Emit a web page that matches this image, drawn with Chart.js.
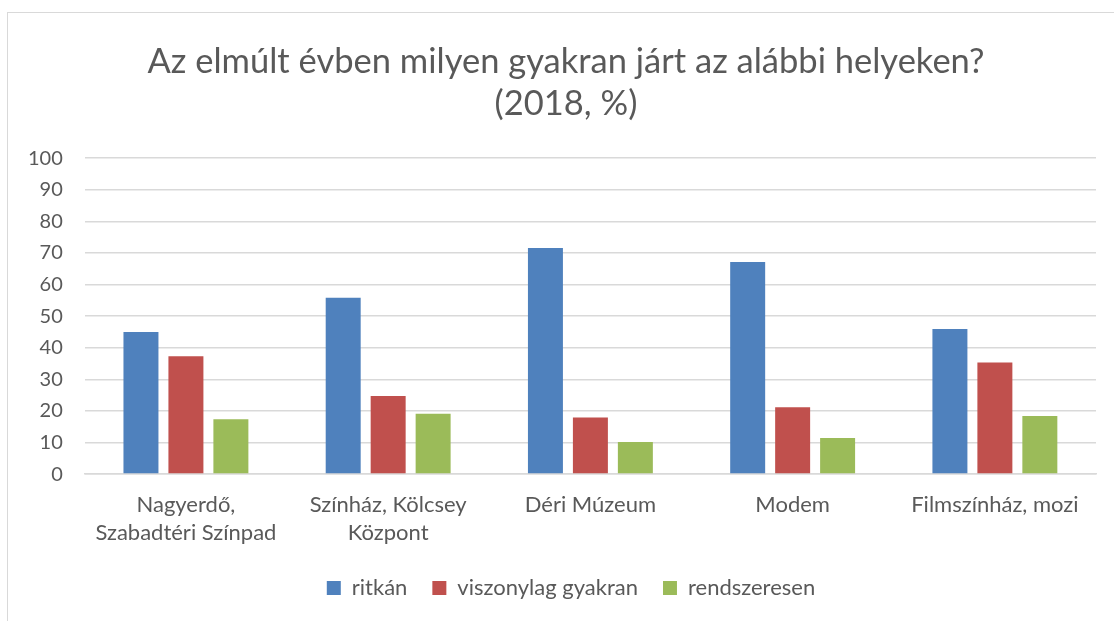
<!DOCTYPE html>
<html>
<head>
<meta charset="utf-8">
<script src="https://cdn.jsdelivr.net/npm/chart.js@4.4.1/dist/chart.umd.min.js"></script>
<style>
  html, body { margin: 0; padding: 0; background: #ffffff; }
  #wrap { position: absolute; left: 0; top: 0; width: 1114px; height: 621px; }
  #frame { position: absolute; left: 7px; top: 12px; width: 1120px; height: 640px; border: 1px solid #d9d9d9; box-sizing: border-box; }
  canvas { position: absolute; left: 0; top: 0; }
</style>
</head>
<body>
<div id="wrap">
  <div id="frame"></div>
  <canvas id="c" width="1114" height="621"></canvas>
</div>
<script>
const categories = [
  ["Nagyerdő,", "Szabadtéri Színpad"],
  ["Színház, Kölcsey", "Központ"],
  "Déri Múzeum",
  "Modem",
  "Filmszínház, mozi"
];
const seriesNames = ["ritkán", "viszonylag gyakran", "rendszeresen"];
const ritkan = [45.0, 55.8, 71.6, 67.1, 45.9];
const viszonylag = [37.3, 24.7, 17.9, 21.2, 35.3];
const rendszeresen = [17.4, 19.1, 10.2, 11.4, 18.4];
const yTicks = [0, 10, 20, 30, 40, 50, 60, 70, 80, 90, 100];
const titleLines = ["Az elmúlt évben milyen gyakran járt az alábbi helyeken?", "(2018, %)"];

const colors = ["#4f81bd", "#c0504d", "#9bbb59"];
const FONT = "Lato, 'Open Sans', sans-serif";
const TXT = "#595959";

// shift title and legend horizontally to match the reference centering
const shiftBlocks = {
  id: "shiftBlocks",
  afterLayout(chart) {
    if (chart.titleBlock) { chart.titleBlock.left += 15; chart.titleBlock.right += 15; }
    if (chart.legend) { chart.legend.left += 20; chart.legend.right += 20; }
  }
};

new Chart(document.getElementById("c"), {
  type: "bar",
  data: {
    labels: categories,
    datasets: [
      { label: seriesNames[0], data: ritkan, backgroundColor: colors[0] },
      { label: seriesNames[1], data: viszonylag, backgroundColor: colors[1] },
      { label: seriesNames[2], data: rendszeresen, backgroundColor: colors[2] }
    ]
  },
  plugins: [shiftBlocks],
  options: {
    responsive: false,
    animation: false,
    devicePixelRatio: 1,
    categoryPercentage: 0.667,
    barPercentage: 0.778,
    layout: { padding: { left: 6, right: 18, top: 26, bottom: 12 } },
    plugins: {
      title: {
        display: true,
        text: titleLines,
        color: TXT,
        font: { family: FONT, size: 34.5, weight: "normal", lineHeight: 1.22 },
        padding: { top: 15, bottom: 33 }
      },
      legend: {
        display: true,
        position: "bottom",
        labels: {
          color: TXT,
          font: { family: FONT, size: 22 },
          boxWidth: 14,
          boxHeight: 14,
          padding: 25
        }
      },
      tooltip: { enabled: false }
    },
    scales: {
      x: {
        grid: { display: false, drawTicks: false },
        border: { display: true, color: "#d9d9d9", width: 1.5 },
        ticks: {
          color: TXT,
          font: { family: FONT, size: 22, lineHeight: 1.27 },
          padding: 17,
          maxRotation: 0,
          autoSkip: false
        },
        afterFit: (scale) => { scale.height -= 12; }
      },
      y: {
        min: 0,
        max: 100,
        afterBuildTicks: (axis) => { axis.ticks = yTicks.map(v => ({ value: v })); },
        grid: { color: "#d9d9d9", lineWidth: 1.5, drawTicks: false },
        border: { display: false },
        ticks: {
          color: TXT,
          font: { family: FONT, size: 20 },
          padding: 22
        }
      }
    }
  }
});
</script>
</body>
</html>
